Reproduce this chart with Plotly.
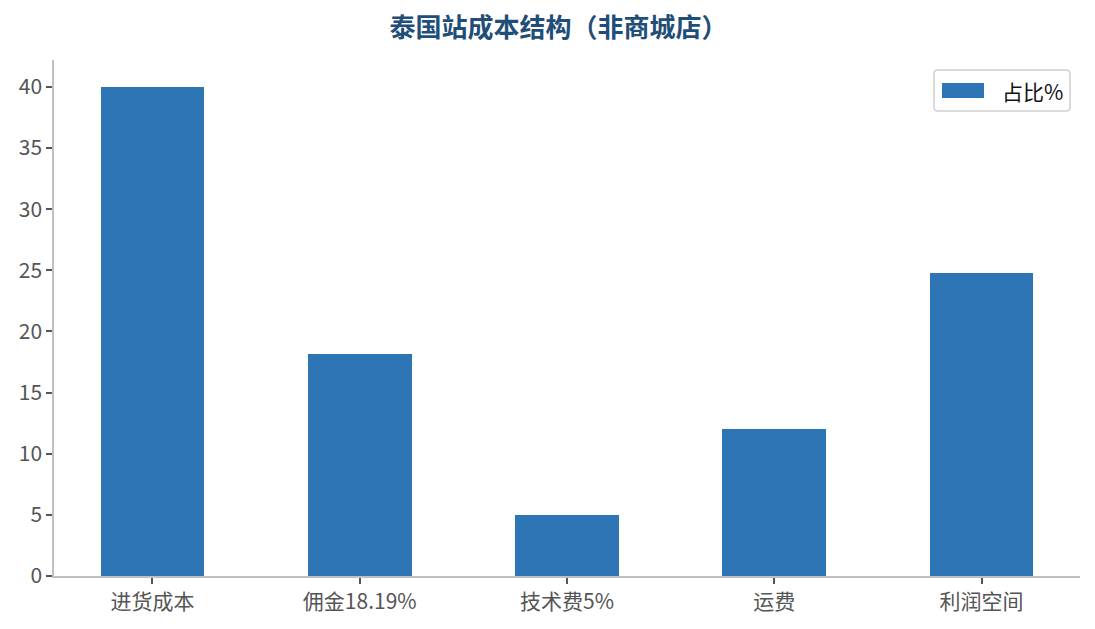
import plotly.graph_objects as go

categories = ["进货成本", "佣金18.19%", "技术费5%", "运费", "利润空间"]
shares = [40, 18.19, 5, 12, 24.81]
series_name = "占比%"
y_ticks = [0, 5, 10, 15, 20, 25, 30, 35, 40]

font_family = "Noto Sans CJK SC, Microsoft YaHei, sans-serif"
bar_color = "#2e75b6"

# plot area in page pixels (page has an 8px body offset)
PL, PR, PT, PB = 54, 1080, 60, 576


def fx(px):
    return (px - PL) / (PR - PL)


def fy(py):
    return (PB - py) / (PB - PT)


fig = go.Figure()
fig.add_trace(go.Bar(
    x=list(range(len(categories))),
    y=shares,
    name=series_name,
    width=0.5,
    marker=dict(color=bar_color, line=dict(width=0)),
    showlegend=False,
))

# legend drawn by hand to get the wide matplotlib-style patch
x0, x1, y0, y1, r = fx(934), fx(1070), fy(111), fy(70), 4
rx, ry = r / (PR - PL), r / (PB - PT)
box = (f"M {x0+rx},{y0} L {x1-rx},{y0} Q {x1},{y0} {x1},{y0+ry} "
       f"L {x1},{y1-ry} Q {x1},{y1} {x1-rx},{y1} L {x0+rx},{y1} "
       f"Q {x0},{y1} {x0},{y1-ry} L {x0},{y0+ry} Q {x0},{y0} {x0+rx},{y0} Z")
fig.add_shape(type="path", path=box, xref="paper", yref="paper",
              line=dict(color="#d0d0d0", width=1.5), fillcolor="white")
fig.add_shape(type="rect", xref="paper", yref="paper",
              x0=fx(942), x1=fx(984), y0=fy(98), y1=fy(83),
              line=dict(width=0), fillcolor=bar_color)
fig.add_annotation(text=series_name, xref="paper", yref="paper",
                   x=fx(1000), y=fy(91), xanchor="left", yanchor="middle",
                   showarrow=False, font=dict(size=21, color="#111111"))

fig.update_layout(
    width=1095,
    height=629,
    margin=dict(l=PL - 8, r=1095 - (PR - 8), t=PT - 8, b=629 - (PB - 8)),
    paper_bgcolor="white",
    plot_bgcolor="white",
    font=dict(family=font_family, size=21, color="#555555"),
    title=dict(
        text="<b>泰国站成本结构（非商城店）</b>",
        x=(390 + 727) / 2 / 1095 - 8 / 1095, xanchor="center",
        y=1 - 20 / 629, yanchor="middle",
        font=dict(size=26, color="#1f4e79", family=font_family),
    ),
    showlegend=False,
    bargap=0,
)

fig.update_xaxes(
    range=[-0.475, 4.475],
    tickmode="array",
    tickvals=list(range(len(categories))),
    ticktext=categories,
    showline=True, linecolor="#c0c0c0", linewidth=1.5,
    ticks="outside", ticklen=6, tickcolor="#555555", tickwidth=1.5,
    showgrid=False, zeroline=False,
)
fig.update_yaxes(
    range=[0, 42.2],
    tickmode="array",
    tickvals=y_ticks,
    showline=True, linecolor="#c0c0c0", linewidth=1.5,
    ticks="outside", ticklen=6, tickcolor="#555555", tickwidth=1.5,
    showgrid=False, zeroline=False,
)

fig.write_html("out.html")
